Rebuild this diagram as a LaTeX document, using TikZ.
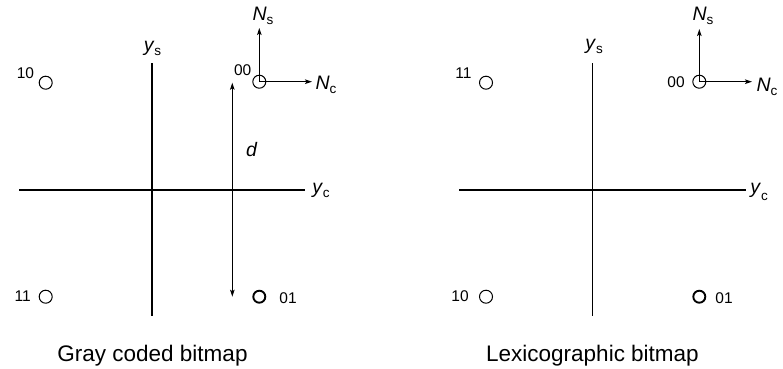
\documentclass[tikz,border=0pt]{standalone}
\usepackage{fontspec}
\setmainfont{Liberation Sans}
\usetikzlibrary{arrows.meta}
\newcommand\symlab[2]{\fontsize{19.5}{19.5}\selectfont\textit{#1}\raisebox{-4pt}{\fontsize{13.5}{13.5}\selectfont #2}}
\tikzset{
  ax/.style={line width=1.1pt},
  arr/.style={line width=1.1pt,-{Stealth[length=7pt,width=4.5pt,inset=1.5pt]}},
  darr/.style={line width=1.1pt,{Stealth[length=7pt,width=4.5pt,inset=1.5pt]}-{Stealth[length=7pt,width=4.5pt,inset=1.5pt]}},
  pt/.style={circle,draw,line width=1pt,minimum size=13pt,inner sep=0pt},
  ptb/.style={pt,line width=1.9pt,minimum size=12pt},
  num/.style={inner sep=0pt,font=\fontsize{15.5}{15.5}\selectfont},
  sym/.style={inner sep=0pt},
  captext/.style={inner sep=0pt,anchor=base,font=\fontsize{22.5}{22.5}\selectfont}
}
\begin{document}
\begin{tikzpicture}[x=1pt,y=-1pt]
\useasboundingbox (0,0) rectangle (783,368);
% ---------- left panel ----------
\coordinate (lhA) at (19,190);
\coordinate (lhB) at (305,190);
\coordinate (lvA) at (152,63);
\coordinate (lvB) at (152,316);
\draw[ax] (lhA) -- (lhB);
\draw[ax] (lvA) -- (lvB);
\node[sym] (lyc) at (321,190.5) {\symlab{y}{c}};
\node[sym] (lys) at (152.5,48) {\symlab{y}{s}};
\node[pt] (l10) at (45.7,82.7) {};
\node[pt] (l00) at (259.3,81.7) {};
\node[pt] (l11) at (45.7,296.7) {};
\node[ptb] (l01) at (259.3,296.7) {};
\node[num] (l10t) at (25.5,73) {10};
\node[num] (l00t) at (242.7,70) {00};
\node[num] (l11t) at (22.7,296.5) {11};
\node[num] (l01t) at (288,298.5) {01};
\coordinate (lns) at (259.3,28);
\coordinate (lnc) at (312,81.7);
\draw[arr] (l00.center) -- (lns);
\draw[arr] (l00.center) -- (lnc);
\node[sym] (lNs) at (263,16) {\symlab{N}{s}};
\node[sym] (lNc) at (326,85) {\symlab{N}{c}};
\coordinate (dtop) at (232.3,82.7);
\coordinate (dbot) at (232.3,296.7);
\draw[darr] (dtop) -- (dbot);
\node[sym,font=\fontsize{19.5}{19.5}\selectfont\itshape] (dl) at (251.5,149.5) {d};
\node[captext] (lcap) at (152.5,361.7) {Gray coded bitmap};
% ---------- right panel ----------
\coordinate (rhA) at (459,190);
\coordinate (rhB) at (746,190);
\coordinate (rvA) at (592.7,63);
\coordinate (rvB) at (592.7,316);
\draw[ax] (rhA) -- (rhB);
\draw[ax] (rvA) -- (rvB);
\node[sym] (ryc) at (759,192) {\fontsize{19.5}{19.5}\selectfont\textit{y}\raisebox{-7pt}{\fontsize{13.5}{13.5}\selectfont c}};
\node[sym] (rys) at (594,46) {\symlab{y}{s}};
\node[pt] (r11) at (486,82.7) {};
\node[pt] (r00) at (699.3,81.7) {};
\node[pt] (r10) at (486,296.7) {};
\node[ptb] (r01) at (699.3,296.7) {};
\node[num] (r11t) at (463.5,73) {11};
\node[num] (r00t) at (676,82) {00};
\node[num] (r10t) at (460,296) {10};
\node[num] (r01t) at (724,298.5) {01};
\coordinate (rns) at (699.3,29);
\coordinate (rnc) at (752,81.7);
\draw[arr] (r00.center) -- (rns);
\draw[arr] (r00.center) -- (rnc);
\node[sym] (rNs) at (703,16) {\symlab{N}{s}};
\node[sym] (rNc) at (767,87) {\symlab{N}{c}};
\node[captext] (rcap) at (592.5,361.7) {Lexicographic bitmap};
\end{tikzpicture}
\end{document}
